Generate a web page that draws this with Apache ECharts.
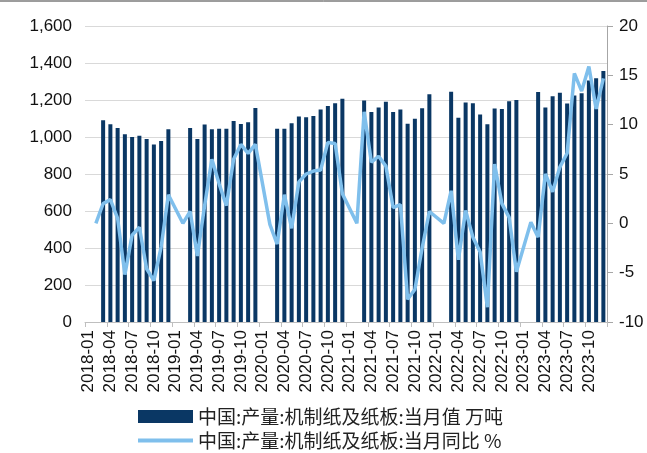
<!DOCTYPE html>
<html>
<head>
<meta charset="utf-8">
<script src="https://cdn.jsdelivr.net/npm/echarts@6/dist/echarts.min.js"></script>
<style>
  html, body { margin: 0; padding: 0; background: #fff; }
  #chart { width: 647px; height: 453px; }
</style>
</head>
<body>
<div id="chart"></div>
<script>
// Monthly machine-made paper & paperboard output (10k tonnes), Jan/Feb not reported separately
var years = ['2018', '2019', '2020', '2021', '2022', '2023'];
var output2018 = [null, null, 1090, 1069, 1049, 1015, 1000, 1007, 989, 960, 978, 1042];
var output2019 = [null, null, 1049, 989, 1067, 1042, 1045, 1045, 1087, 1070, 1080, 1157];
var output2020 = [null, null, 1045, 1045, 1075, 1111, 1107, 1114, 1148, 1167, 1183, 1207];
var output2021 = [null, null, 1197, 1135, 1159, 1190, 1135, 1148, 1072, 1099, 1155, 1231];
var output2022 = [null, null, 1245, 1104, 1187, 1182, 1121, 1069, 1154, 1151, 1193, 1200];
var output2023 = [null, null, 1243, 1159, 1220, 1239, 1181, 1225, 1236, 1305, 1318, 1357];

// Year-on-year change (%), January folded into February
var yoy2018 = [null, 0.0, 2.0, 2.4, 0.5, -5.2, -1.2, -0.4, -4.6, -5.8, -2.4, 2.9];
var yoy2019 = [null, 0.0, 1.2, -3.3, 1.8, 6.5, 4.0, 1.8, 6.5, 8.0, 7.1, 8.0];
var yoy2020 = [null, -0.1, -2.1, 2.9, -0.5, 4.2, 5.0, 5.3, 5.4, 8.2, 8.1, 3.0];
var yoy2021 = [null, 0.0, 11.3, 6.2, 6.8, 5.8, 1.6, 1.9, -7.7, -6.7, -2.5, 1.2];
var yoy2022 = [null, 0.0, 3.3, -3.7, 1.3, -1.4, -2.9, -8.5, 6.0, 2.0, 0.6, -4.9];
var yoy2023 = [null, 0.1, -1.4, 5.0, 3.2, 5.7, 7.1, 15.2, 13.4, 15.9, 11.6, 14.7];

var leftTicks = { min: 0, max: 1600, interval: 200 };
var rightTicks = { min: -10, max: 20, interval: 5 };

var barName = '中国:产量:机制纸及纸板:当月值 万吨';
var lineName = '中国:产量:机制纸及纸板:当月同比 %';

var months = ['01', '02', '03', '04', '05', '06', '07', '08', '09', '10', '11', '12'];
var categories = [];
years.forEach(function (y) {
  months.forEach(function (m) { categories.push(y + '-' + m); });
});

var outputAll = [].concat(output2018, output2019, output2020, output2021, output2022, output2023);
var yoyAll = [].concat(yoy2018, yoy2019, yoy2020, yoy2021, yoy2022, yoy2023);

var barColor = '#0a3764';
var lineColor = '#7fbfec';
var numFont = "'Liberation Sans', Arial, sans-serif";
var cjkFont = "'Noto Sans CJK SC', sans-serif";
var legendText = { fontFamily: cjkFont, fontSize: 19, color: '#222' };

var chart = echarts.init(document.getElementById('chart'), null, { renderer: 'canvas' });
chart.setOption({
  animation: false,
  backgroundColor: '#ffffff',
  grid: { left: 85, right: 40, top: 26, bottom: 131, containLabel: false },
  graphic: [{
    type: 'line',
    shape: { x1: 0, y1: 1, x2: 647, y2: 1 },
    style: { stroke: '#3a3a3a', lineWidth: 1 }
  }],
  legend: [{
    left: 133,
    top: 402,
    itemWidth: 55,
    itemHeight: 13,
    itemGap: 10,
    textStyle: legendText,
    data: [{ name: barName, icon: 'rect', itemStyle: { color: barColor } }]
  }, {
    left: 133,
    top: 426,
    itemWidth: 55,
    itemHeight: 4,
    itemGap: 10,
    textStyle: legendText,
    data: [{ name: lineName, icon: 'rect', itemStyle: { color: lineColor } }]
  }],
  xAxis: {
    type: 'category',
    data: categories,
    boundaryGap: true,
    axisLine: { show: true, lineStyle: { color: '#bfbfbf', width: 1 } },
    axisTick: { show: true, interval: 2, length: 5, lineStyle: { color: '#bfbfbf' } },
    axisLabel: {
      interval: 2,
      rotate: 90,
      margin: 8,
      fontFamily: numFont,
      fontSize: 17,
      color: '#111'
    },
    splitLine: { show: false }
  },
  yAxis: [{
    type: 'value',
    min: leftTicks.min,
    max: leftTicks.max,
    interval: leftTicks.interval,
    axisLine: { show: false },
    axisTick: { show: false },
    axisLabel: {
      margin: 13,
      fontFamily: numFont,
      fontSize: 17,
      color: '#111',
      formatter: function (v) { return v.toLocaleString('en-US'); }
    },
    splitLine: { show: true, lineStyle: { color: '#d9d9d9', width: 1 } }
  }, {
    type: 'value',
    position: 'right',
    min: rightTicks.min,
    max: rightTicks.max,
    interval: rightTicks.interval,
    axisLine: { show: true, lineStyle: { color: '#a6a6a6', width: 1 } },
    axisTick: { show: true, inside: false, length: 6, lineStyle: { color: '#a6a6a6' } },
    axisLabel: {
      margin: 12,
      fontFamily: numFont,
      fontSize: 17,
      color: '#111'
    },
    splitLine: { show: false }
  }],
  series: [{
    name: barName,
    type: 'bar',
    yAxisIndex: 0,
    data: outputAll,
    barWidth: 4,
    itemStyle: { color: barColor },
    z: 2
  }, {
    name: lineName,
    type: 'line',
    yAxisIndex: 1,
    data: yoyAll,
    connectNulls: true,
    symbol: 'none',
    showSymbol: false,
    lineStyle: { color: lineColor, width: 3.5 },
    itemStyle: { color: lineColor },
    z: 3
  }]
});
</script>
</body>
</html>
